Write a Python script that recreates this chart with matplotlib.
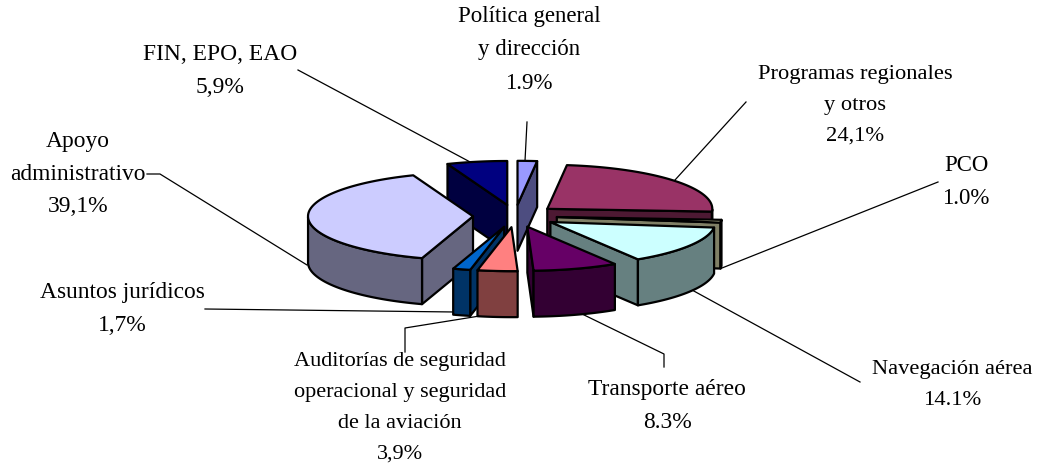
import numpy as np
import matplotlib
matplotlib.use('Agg')
import matplotlib.pyplot as plt
from matplotlib.patches import Polygon

# Slice shares, clockwise from the top
names = ['Política general', 'Programas regionales', 'PCO', 'Navegación aérea', 'Transporte aéreo',
         'Auditorías', 'Asuntos jurídicos', 'Apoyo administrativo', 'FIN, EPO, EAO']
values = [1.9, 24.1, 1.0, 14.1, 8.3, 3.9, 1.7, 39.1, 5.9]
top_colors = ['#9999FF', '#993366', '#FFFFCC', '#CCFFFF', '#660066', '#FF8080', '#0066CC', '#CCCCFF', '#000080']
side_colors = ['#4D4D80', '#4D1933', '#808066', '#668080', '#330033', '#804040', '#003366', '#666680', '#000040']

# Label text, centre x, centre y, font size
labels = [
    ('Política general\ny dirección\n1.9%', 529, 50, 16.5),
    ('FIN, EPO, EAO\n5,9%', 220, 71, 16.9),
    ('Programas regionales\ny otros\n24,1%', 855, 105, 16.2),
    ('PCO\n1.0%', 966, 182, 16.5),
    ('Apoyo\nadministrativo\n39,1%', 78, 174, 16.9),
    ('Asuntos jurídicos\n1,7%', 122, 309, 16.9),
    ('Navegación aérea\n14.1%', 952, 385, 16.2),
    ('Transporte aéreo\n8.3%', 667, 406, 16.9),
    ('Auditorías de seguridad\noperacional y seguridad\nde la aviación\n3,9%', 400, 408, 16.0),
]

# Leader lines in picture pixels
leaders = [
    [(298, 70), (472, 163)],
    [(527, 122), (525, 161)],
    [(746, 102), (675, 180)],
    [(938, 182), (722, 268)],
    [(147, 174), (160, 174), (307, 265)],
    [(205, 309), (455, 312)],
    [(860, 382), (692, 290)],
    [(664, 367), (664, 354), (578, 312)],
    [(405, 352), (405, 328), (492, 314)],
]

# Pie geometry in pixels
cx, cy = 515, 216
rx, ry = 165, 44
depth = 46
explode = 42

fig = plt.figure(figsize=(10.39, 4.65), dpi=100)
ax = fig.add_axes([0, 0, 1, 1])
ax.set_xlim(0, 1039)
ax.set_ylim(465, 0)
ax.axis('off')


def point(a, base, r=1.0):
    return (base[0] + rx * r * np.sin(a), base[1] - ry * r * np.cos(a))


def add_face(pts, color, z):
    ax.add_patch(Polygon(pts, closed=True, facecolor=color, edgecolor='black', lw=1.6, joinstyle='round', zorder=z))


edges = np.radians(np.concatenate([[0], np.cumsum(values)]) * 3.6)
mids = (edges[:-1] + edges[1:]) / 2

# Back slices first
order = np.argsort(-np.cos(mids))
for z, i in enumerate(order):
    a1, a2 = edges[i], edges[i + 1]
    apex = point(mids[i], (cx, cy), explode / rx)
    low = lambda p: (p[0], p[1] + depth)
    # Radial faces that look towards the viewer
    if np.sin(a1) < -1e-6:
        p = point(a1, apex)
        add_face([apex, p, low(p), low(apex)], side_colors[i], z)
    if np.sin(a2) > 1e-6:
        p = point(a2, apex)
        add_face([apex, p, low(p), low(apex)], side_colors[i], z)
    # Outer wall, front part of the arc only
    t = np.linspace(a1, a2, 120)
    front = t[np.cos(t) < 0]
    if len(front) > 1:
        rim = [point(a, apex) for a in front]
        add_face(rim + [low(p) for p in rim[::-1]], side_colors[i], z)
    # Top face
    rim = [point(a, apex) for a in t]
    add_face([apex] + rim, top_colors[i], z)

for pts in leaders:
    xs, ys = zip(*pts)
    ax.plot(xs, ys, color='black', lw=0.9, zorder=-1)

# Same line pitch (about 31.5 px) whatever the font size
for text, x, y, size in labels:
    ax.text(x, y, text, ha='center', va='center', family='Liberation Serif', fontsize=size,
            linespacing=31.5 / (1.0655 * size), color='black')

fig.savefig('out.png', dpi=100)
